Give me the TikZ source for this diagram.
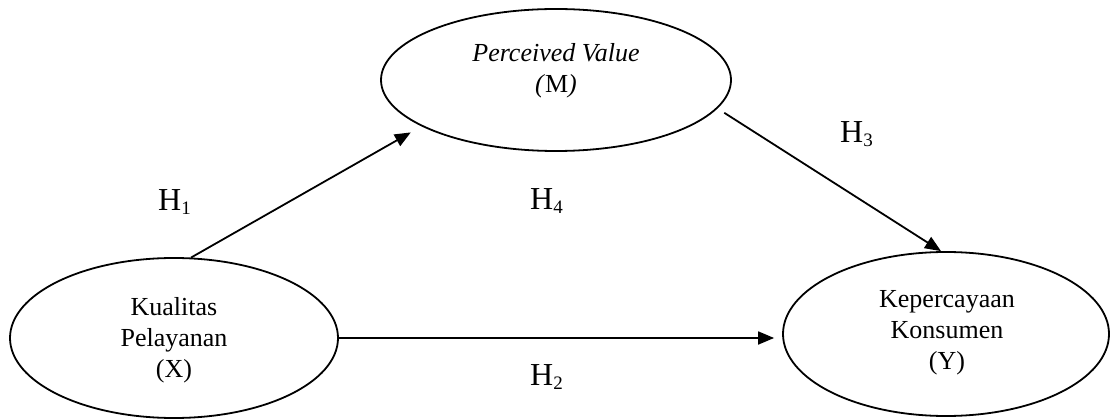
\documentclass[tikz,border=0pt]{standalone}
\usepackage{fontspec}
\setmainfont{Liberation Serif}
\usetikzlibrary{shapes.geometric,arrows.meta}
\newcommand\hsubidx[1]{\raisebox{-4pt}{\fontsize{19}{19}\selectfont #1}}
\begin{document}
\begin{tikzpicture}[x=1pt,y=-1pt,
  var/.style={draw,ellipse,line width=1.8pt,inner sep=0pt},
  lbl/.style={font=\fontsize{26}{31}\selectfont,align=center,anchor=base,inner sep=0pt},
  hyp/.style={font=\fontsize{32}{36}\selectfont,anchor=base west,inner sep=0pt},
  arr/.style={line width=1.8pt,-{Triangle[length=16pt,width=13pt]}}]
\useasboundingbox (0,0) rectangle (1110,419);
\node[var,minimum width=350pt,minimum height=142pt] (M) at (556,80) {};
\node[var,minimum width=328pt,minimum height=160pt] (X) at (174,338) {};
\node[var,minimum width=326pt,minimum height=164pt] (Y) at (946,334) {};
\node[lbl] (tM) at (556,93) {\textit{Perceived Value}\\\textit{(}M\textit{)}};
\node[lbl] (tX) at (174,377) {Kualitas\\Pelayanan\\(X)};
\node[lbl] (tY) at (947,369) {Kepercayaan\\Konsumen\\(Y)};
\draw[arr,shorten >=12.3pt] (X.78.7) -- (M.199);
\draw[arr,shorten <=8pt] (M.-10.2) -- ([xshift=-5pt]Y.north);
\draw[arr,shorten >=8pt] (X.east) -- (X.east -| Y.west);
\node[hyp] (h1) at (158,211) {H\hsubidx{1}};
\node[hyp] (h4) at (530,210) {H\hsubidx{4}};
\node[hyp] (h3) at (840,143) {H\hsubidx{3}};
\node[hyp] (h2) at (530,385) {H\hsubidx{2}};
\end{tikzpicture}
\end{document}
